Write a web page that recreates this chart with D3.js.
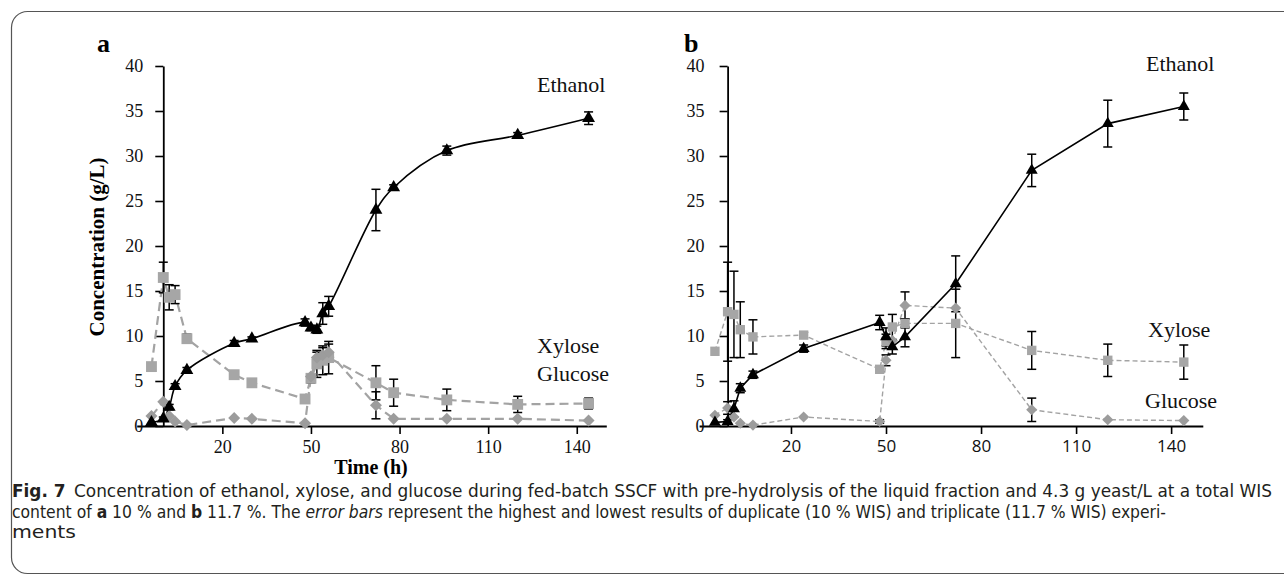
<!DOCTYPE html>
<html>
<head>
<meta charset="utf-8">
<script src="https://cdn.jsdelivr.net/npm/d3@7"></script>
<style>
  body { margin: 0; background: #fff; }
  svg { display: block; }
  .serif { font-family: "Liberation Serif", "Times New Roman", serif; }
  .cap { font-family: "Liberation Sans Narrow", "DejaVu Sans Condensed", "Open Sans", sans-serif; }
</style>
</head>
<body>
<svg id="fig" width="1284" height="586"></svg>
<script>
// ---- data ----
const xTicks = [20, 50, 80, 110, 140];
const yTicks = [0, 5, 10, 15, 20, 25, 30, 35, 40];
const seriesNames = ["Ethanol", "Xylose", "Glucose"];

// panel a: 10 % WIS
const timeA = [-4, 0, 2, 4, 8, 24, 30, 48, 50, 52, 54, 56, 72, 78, 96, 120, 144];
const ethanolA = [0.4, 0.8, 2.1, 4.4, 6.2, 9.2, 9.7, 11.5, 10.9, 10.7, 12.5, 13.3, 24.0, 26.5, 30.6, 32.3, 34.2];
const ethanolErrA = [0, 0.2, 0.3, 0.3, 0.3, 0.3, 0.2, 0.4, 0.3, 0.4, 1.2, 1.1, 2.3, 0.3, 0.5, 0.3, 0.7];
const xyloseA = [6.6, 16.5, 14.3, 14.6, 9.7, 5.7, 4.8, 3.0, 5.3, 6.9, 7.3, 7.6, 4.8, 3.7, 2.9, 2.4, 2.5];
const xyloseErrA = [0, 1.7, 1.4, 1.0, 0.5, 0.1, 0.1, 0.1, 0.5, 1.5, 1.6, 1.8, 1.9, 1.5, 1.2, 0.9, 0.6];
const glucoseA = [1.1, 2.7, 1.1, 0.5, 0.1, 0.9, 0.8, 0.3, 5.5, 7.6, 7.9, 8.2, 2.3, 0.8, 0.8, 0.8, 0.6];
const glucoseErrA = [0, 0, 0, 0, 0, 0, 0, 0, 0.3, 0.6, 0.8, 0.9, 1.5, 0, 0, 0, 0];

// panel b: 11.7 % WIS
const timeB = [-4, 0, 2, 4, 8, 24, 48, 50, 52, 56, 72, 96, 120, 144];
const ethanolB = [0.4, 0.5, 1.9, 4.2, 5.7, 8.6, 11.5, 9.9, 8.8, 9.9, 15.8, 28.4, 33.6, 35.5];
const ethanolErrB = [0, 0.2, 0.9, 0.5, 0.4, 0.4, 0.8, 1.0, 0.8, 1.1, 3.1, 1.8, 2.6, 1.5];
const xyloseB = [8.3, 12.7, 12.4, 10.7, 9.9, 10.1, 6.3, 9.4, 11.0, 11.4, 11.4, 8.4, 7.3, 7.1];
const xyloseErrB = [0, 5.5, 4.8, 3.1, 1.9, 0.3, 0.3, 0.8, 1.4, 0.5, 3.8, 2.1, 1.8, 1.9];
const glucoseB = [1.2, 2.0, 1.0, 0.3, 0.1, 1.0, 0.5, 7.3, 9.5, 13.4, 13.1, 1.8, 0.7, 0.6];
const glucoseErrB = [0, 0.7, 0, 0, 0, 0, 0.2, 0.6, 0, 1.5, 0, 1.3, 0, 0];

const svg = d3.select("#fig");

// frame round the figure
svg.append("rect")
  .attr("x", 11.5).attr("y", 11.5)
  .attr("width", 1300).attr("height", 562)
  .attr("rx", 16)
  .attr("fill", "none")
  .attr("stroke", "#555").attr("stroke-width", 1.2);

function zip(t, v, e) {
  return t.map((d, i) => ({ t: d, v: v[i], e: e[i] }));
}

function drawPanel(p) {
  const x = d3.scaleLinear().domain([-9, 150]).range(p.xRange);
  const y = d3.scaleLinear().domain([0, 40]).range([426, 66]);
  const g = svg.append("g");

  // axes
  const xAxis = g.append("g")
    .attr("transform", "translate(0,426)")
    .call(d3.axisBottom(x).tickValues(xTicks).tickSize(8).tickSizeOuter(0).tickPadding(6));
  xAxis.selectAll("text")
    .attr("font-family", p.xFont).attr("font-size", p.xFontSize).attr("fill", "#111");

  const yAxis = g.append("g")
    .attr("transform", `translate(${x(0)},0)`)
    .call(d3.axisLeft(y).tickValues(yTicks).tickSize(8).tickSizeOuter(0).tickPadding(p.yPad));
  yAxis.selectAll("text")
    .attr("class", "serif").attr("font-family", null)
    .attr("font-size", 18).attr("fill", "#111");

  [xAxis, yAxis].forEach(a => {
    a.select(".domain").attr("stroke", "#000").attr("stroke-width", 1.8);
    a.selectAll(".tick line").attr("stroke", "#000").attr("stroke-width", 1.6);
  });

  const sym = d3.symbol();
  const series = [
    { data: zip(p.time, p.xylose, p.xyloseErr), shape: "square" },
    { data: zip(p.time, p.glucose, p.glucoseErr), shape: "diamond" },
    { data: zip(p.time, p.ethanol, p.ethanolErr), shape: "triangle" }
  ];

  // lines
  series.forEach(s => {
    const solid = s.shape === "triangle";
    const line = d3.line().x(d => x(d.t)).y(d => y(d.v))
      .curve(solid && p.smooth ? d3.curveCatmullRom.alpha(0.5) : d3.curveLinear);
    g.append("path")
      .datum(s.data)
      .attr("d", line)
      .attr("fill", "none")
      .attr("stroke", solid ? "#000" : "#a3a3a3")
      .attr("stroke-width", solid ? 1.6 : p.dashWidth)
      .attr("stroke-dasharray", solid ? null : p.dash);
  });

  // error bars
  series.forEach(s => {
    const eb = g.append("g").selectAll("g")
      .data(s.data.filter(d => d.e > 0.15))
      .join("g")
      .attr("stroke", "#000").attr("stroke-width", 1.5);
    eb.append("line")
      .attr("x1", d => x(d.t)).attr("x2", d => x(d.t))
      .attr("y1", d => y(d.v - d.e)).attr("y2", d => y(d.v + d.e));
    eb.append("line")
      .attr("x1", d => x(d.t) - 4.5).attr("x2", d => x(d.t) + 4.5)
      .attr("y1", d => y(d.v + d.e)).attr("y2", d => y(d.v + d.e));
    eb.append("line")
      .attr("x1", d => x(d.t) - 4.5).attr("x2", d => x(d.t) + 4.5)
      .attr("y1", d => y(d.v - d.e)).attr("y2", d => y(d.v - d.e));
  });

  // markers
  series.forEach(s => {
    const m = g.append("g").selectAll("path")
      .data(s.data)
      .join("path");
    if (s.shape === "triangle") {
      m.attr("d", sym.type(d3.symbolTriangle).size(p.triSize)())
        .attr("fill", "#000");
    } else if (s.shape === "square") {
      m.attr("d", sym.type(d3.symbolSquare).size(p.sqSize)())
        .attr("fill", "#a6a6a6");
    } else {
      m.attr("d", sym.type(d3.symbolSquare).size(p.diaSize)())
        .attr("fill", "#9c9c9c");
    }
    m.attr("transform", d => `translate(${x(d.t)},${y(d.v)})` + (s.shape === "diamond" ? " rotate(45)" : ""));
  });

  // series names
  p.labels.forEach((l, i) => {
    g.append("text").attr("class", "serif")
      .attr("x", l[0]).attr("y", l[1])
      .attr("font-size", 22).attr("fill", "#111")
      .text(seriesNames[i]);
  });

  // panel letter
  g.append("text").attr("class", "serif")
    .attr("x", p.letterX).attr("y", 52)
    .attr("font-size", 26).attr("font-weight", "bold")
    .text(p.letter);

  return x;
}

drawPanel({
  letter: "a", letterX: 97,
  xRange: [136.7, 606.3],
  time: timeA, ethanol: ethanolA, ethanolErr: ethanolErrA,
  xylose: xyloseA, xyloseErr: xyloseErrA, glucose: glucoseA, glucoseErr: glucoseErrA,
  smooth: true, dash: "9,5", dashWidth: 2.2,
  triSize: 72, sqSize: 118, diaSize: 72,
  xFont: "Liberation Serif", xFontSize: 18, yPad: 12,
  labels: [[537, 92], [537, 353], [537, 381]]
});

drawPanel({
  letter: "b", letterX: 684,
  xRange: [699.1, 1202.8],
  time: timeB, ethanol: ethanolB, ethanolErr: ethanolErrB,
  xylose: xyloseB, xyloseErr: xyloseErrB, glucose: glucoseB, glucoseErr: glucoseErrB,
  smooth: false, dash: "5,3", dashWidth: 1.4,
  triSize: 62, sqSize: 88, diaSize: 62,
  xFont: "Open Sans", xFontSize: 17, yPad: 15,
  labels: [[1146, 71], [1148, 337], [1145, 408]]
});

// axis titles
svg.append("text").attr("class", "serif")
  .attr("transform", "translate(97,247) rotate(-90)")
  .attr("text-anchor", "middle").attr("dy", "0.35em")
  .attr("font-size", 21).attr("font-weight", "bold")
  .text("Concentration (g/L)");

svg.append("text").attr("class", "serif")
  .attr("x", 371).attr("y", 474)
  .attr("text-anchor", "middle")
  .attr("font-size", 20).attr("font-weight", "bold")
  .text("Time (h)");

// caption
const cap1 = svg.append("text").attr("class", "cap")
  .attr("x", 12).attr("y", 497).attr("font-size", 17).attr("fill", "#231f20")
  .attr("textLength", 1260).attr("lengthAdjust", "spacingAndGlyphs");
cap1.append("tspan").attr("font-weight", "bold").text("Fig. 7");
cap1.append("tspan").text("\u2002Concentration of ethanol, xylose, and glucose during fed-batch SSCF with pre-hydrolysis of the liquid fraction and 4.3 g yeast/L at a total WIS");

const cap2 = svg.append("text").attr("class", "cap")
  .attr("x", 12).attr("y", 518).attr("font-size", 17).attr("fill", "#231f20")
  .attr("textLength", 1154).attr("lengthAdjust", "spacingAndGlyphs");
cap2.append("tspan").text("content of ");
cap2.append("tspan").attr("font-weight", "bold").text("a");
cap2.append("tspan").text(" 10 % and ");
cap2.append("tspan").attr("font-weight", "bold").text("b");
cap2.append("tspan").text(" 11.7 %. The ");
cap2.append("tspan").attr("font-style", "italic").text("error bars");
cap2.append("tspan").text(" represent the highest and lowest results of duplicate (10 % WIS) and triplicate (11.7 % WIS) experi-");

svg.append("text").attr("class", "cap")
  .attr("x", 12).attr("y", 538).attr("font-size", 17).attr("fill", "#231f20")
  .attr("textLength", 64).attr("lengthAdjust", "spacingAndGlyphs")
  .text("ments");
</script>
</body>
</html>
